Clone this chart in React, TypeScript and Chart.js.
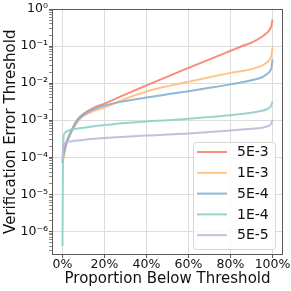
import React, { useEffect, useRef } from 'react';
import { Chart, registerables } from 'chart.js';

Chart.register(...registerables);

// Proportion below threshold (%)
const proportions = [0, 0.2, 0.5, 1, 2, 3, 5, 7.5, 10, 15, 20, 30, 40, 50, 60, 70, 80, 85, 90, 95, 97, 98, 99, 99.5, 100];

const seriesLabels = ['5E-3', '1E-3', '5E-4', '1E-4', '5E-5'];
const seriesColors = ['rgba(250,127,111,0.9)', 'rgba(255,190,122,0.9)', 'rgba(130,176,210,0.9)', 'rgba(142,207,201,0.9)', 'rgba(190,184,220,0.9)'];

const err5e3 = [7e-5, 9e-5, 1.1e-4, 1.6e-4, 2.6e-4, 3.6e-4, 6.5e-4, 1.1e-3, 1.5e-3, 2.2e-3, 2.8e-3, 5.0e-3, 8.7e-3, 0.015, 0.026, 0.044, 0.075, 0.098, 0.125, 0.18, 0.22, 0.25, 0.30, 0.36, 0.52];
const err1e3 = [7e-5, 8e-5, 1.0e-4, 1.4e-4, 2.4e-4, 3.3e-4, 5.8e-4, 9.5e-4, 1.3e-3, 1.8e-3, 2.2e-3, 3.8e-3, 6.0e-3, 8.3e-3, 0.011, 0.0145, 0.019, 0.021, 0.024, 0.030, 0.035, 0.039, 0.047, 0.055, 0.093];
const err5e4 = [7e-5, 9e-5, 1.1e-4, 1.6e-4, 2.6e-4, 3.6e-4, 6.3e-4, 1.05e-3, 1.4e-3, 2.0e-3, 2.5e-3, 3.3e-3, 4.1e-3, 5.0e-3, 6.1e-3, 7.5e-3, 9.3e-3, 0.0105, 0.012, 0.0145, 0.017, 0.019, 0.022, 0.026, 0.044];
const err1e4 = [4e-7, 5e-5, 3.5e-4, 4.5e-4, 5.0e-4, 5.3e-4, 5.7e-4, 6.0e-4, 6.3e-4, 6.9e-4, 7.4e-4, 8.4e-4, 9.3e-4, 1.0e-3, 1.1e-3, 1.22e-3, 1.37e-3, 1.47e-3, 1.6e-3, 1.8e-3, 1.95e-3, 2.1e-3, 2.3e-3, 2.6e-3, 3.2e-3];
const err5e5 = [8e-5, 1.5e-4, 2.1e-4, 2.4e-4, 2.55e-4, 2.65e-4, 2.75e-4, 2.85e-4, 2.95e-4, 3.15e-4, 3.3e-4, 3.6e-4, 3.85e-4, 4.1e-4, 4.4e-4, 4.8e-4, 5.3e-4, 5.6e-4, 5.9e-4, 6.3e-4, 6.7e-4, 7.0e-4, 7.6e-4, 8.4e-4, 1.05e-3];

const seriesValues = [err5e3, err1e3, err5e4, err1e4, err5e5];

const xTickValues = [0, 20, 40, 60, 80, 100];
const yMajorExponents = [0, -1, -2, -3, -4, -5, -6, -7];
const yMinorMultipliers = [2, 3, 4, 5, 6, 7, 8, 9];

const xTitle = 'Proportion Below Threshold';
const yTitle = 'Verification Error Threshold';

const FONT = "'DejaVu Sans', 'Liberation Sans', sans-serif";
const SUP: Record<string, string> = { '0': '⁰', '1': '¹', '2': '²', '3': '³', '4': '⁴', '5': '⁵', '6': '⁶', '7': '⁷', '8': '⁸', '9': '⁹', '-': '⁻' };
const supText = (n: number) => String(n).split('').map((c) => SUP[c] ?? c).join('');

const isMajor = (v: number) => {
  const l = Math.log10(v);
  return Math.abs(l - Math.round(l)) < 1e-6;
};

const framePlugin = {
  id: 'frame',
  afterDatasetsDraw(chart: any) {
    const { ctx, chartArea } = chart;
    const l = Math.round(chartArea.left) + 0.5;
    const t = Math.round(chartArea.top) + 0.5;
    const r = Math.round(chartArea.right) - 0.5;
    const b = Math.round(chartArea.bottom) - 0.5;
    ctx.save();
    ctx.strokeStyle = '#5a5a5a';
    ctx.lineWidth = 1;
    ctx.strokeRect(l, t, r - l, b - t);
    ctx.restore();
  },
};

const legendPlugin = {
  id: 'cornerLegend',
  afterDraw(chart: any) {
    const { ctx, chartArea } = chart;
    const ds = chart.data.datasets;
    const boxW = 82;
    const rowH = 20.8;
    const boxH = 107;
    const x0 = chartArea.right - 8 - boxW;
    const y0 = chartArea.bottom - 6 - boxH;
    ctx.save();
    ctx.beginPath();
    (ctx as any).roundRect(x0 + 0.5, y0 + 0.5, boxW, boxH, 3);
    ctx.fillStyle = 'rgba(255,255,255,0.85)';
    ctx.fill();
    ctx.strokeStyle = '#d6d6d6';
    ctx.lineWidth = 1;
    ctx.stroke();
    ctx.font = `14px ${FONT}`;
    ctx.textBaseline = 'middle';
    ctx.textAlign = 'left';
    ds.forEach((d: any, i: number) => {
      const cy = y0 + 10 + i * rowH;
      ctx.strokeStyle = d.borderColor;
      ctx.lineWidth = 2;
      ctx.beginPath();
      ctx.moveTo(x0 + 4, cy);
      ctx.lineTo(x0 + 34, cy);
      ctx.stroke();
      ctx.fillStyle = '#111111';
      ctx.fillText(d.label, x0 + 44, cy + 0.5);
    });
    ctx.restore();
  },
};

export default function App() {
  const ref = useRef<HTMLCanvasElement | null>(null);

  useEffect(() => {
    document.body.style.margin = '0';
    if (!ref.current) return;
    const datasets = seriesLabels.map((label, i) => ({
      label,
      data: proportions.map((p, j) => ({ x: p, y: seriesValues[i][j] })),
      borderColor: seriesColors[i],
      backgroundColor: seriesColors[i],
      borderWidth: 2,
      pointRadius: 0,
      fill: false,
      cubicInterpolationMode: 'monotone' as const,
      order: seriesLabels.length - 1 - i,
    }));

    const yTicks: number[] = [];
    yMajorExponents.forEach((e) => {
      yTicks.push(Math.pow(10, e));
      yMinorMultipliers.forEach((m) => yTicks.push(m * Math.pow(10, e)));
    });

    const chart = new Chart(ref.current, {
      type: 'line',
      data: { datasets },
      plugins: [framePlugin, legendPlugin],
      options: {
        animation: false,
        responsive: false,
        maintainAspectRatio: false,
        layout: { padding: { top: 6, right: 8, left: 0, bottom: 0 } },
        plugins: { legend: { display: false }, tooltip: { enabled: false } },
        scales: {
          x: {
            type: 'linear',
            min: -5,
            max: 105,
            afterFit: (s: any) => { s.height = 36; },
            afterBuildTicks: (s: any) => { s.ticks = xTickValues.map((v) => ({ value: v })); },
            grid: { color: '#dddddd', lineWidth: 1, tickLength: 3, tickColor: '#5a5a5a', drawTicks: true },
            border: { display: false },
            ticks: {
              autoSkip: false,
              maxRotation: 0,
              padding: -1,
              color: '#111111',
              font: { family: FONT, size: 12.5 },
              callback: (v: any) => `${v}%`,
            },
            title: {
              display: true,
              text: xTitle,
              color: '#111111',
              font: { family: FONT, size: 15 },
              padding: { top: 0, bottom: 3 },
            },
          },
          y: {
            type: 'logarithmic',
            min: 2.3e-7,
            max: 1.04,
            afterFit: (s: any) => { s.width = 52; },
            afterBuildTicks: (s: any) => {
              s.ticks = yTicks.filter((v) => v >= 2.3e-7 && v <= 1.04).map((v) => ({ value: v }));
            },
            grid: {
              color: (c: any) => (c.tick && isMajor(c.tick.value) ? '#dddddd' : 'rgba(0,0,0,0)'),
              tickColor: '#5a5a5a',
              tickWidth: (c: any) => (c.tick && isMajor(c.tick.value) ? 1 : 0.7),
              lineWidth: 1,
              tickLength: 3,
            },
            border: { display: false },
            ticks: {
              autoSkip: false,
              padding: 1,
              color: '#111111',
              font: { family: FONT, size: 12.5 },
              callback: (v: any) => {
                const n = Number(v);
                if (!isMajor(n)) return '';
                return `10${supText(Math.round(Math.log10(n)))}`;
              },
            },
            title: {
              display: true,
              text: yTitle,
              color: '#111111',
              font: { family: FONT, size: 15 },
              padding: { top: 2, bottom: 0 },
            },
          },
        },
      },
    });
    return () => chart.destroy();
  }, []);

  return (
    <div style={{ position: 'fixed', left: 0, top: 0, width: 291, height: 291, background: '#ffffff' }}>
      <canvas ref={ref} width={291} height={291} style={{ width: 291, height: 291, display: 'block' }} />
    </div>
  );
}
